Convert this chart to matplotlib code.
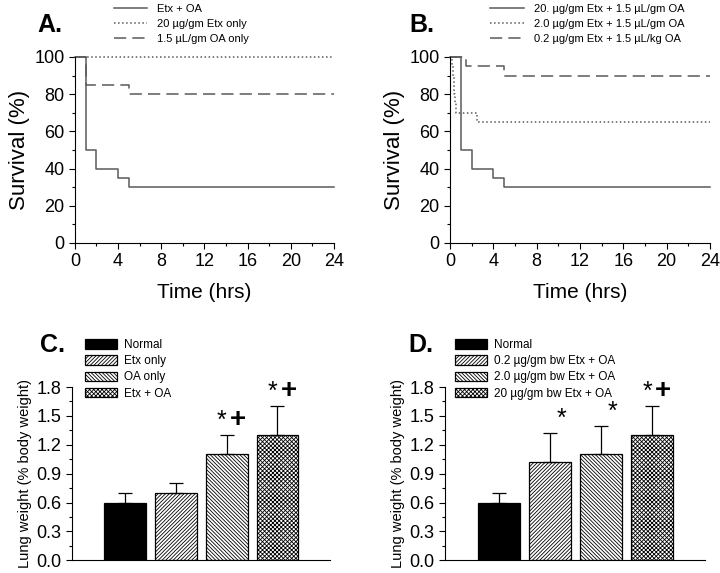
import matplotlib
matplotlib.use("Agg")
import matplotlib.pyplot as plt
import numpy as np
from matplotlib.ticker import MultipleLocator, FormatStrFormatter

plt.rcParams['font.family'] = ['Liberation Sans', 'DejaVu Sans']
plt.rcParams['hatch.linewidth'] = 0.6

# ---- survival data (time in hrs, survival %) ----
a_labels = ["Etx + OA", "20 \u00b5g/gm Etx only", "1.5 \u00b5L/gm OA only"]
etx_oa_t = [0, 1, 2, 4, 5, 24]
etx_oa_s = [100, 50, 40, 35, 30, 30]
etx_only_t = [0, 24]
etx_only_s = [100, 100]
oa_only_t = [0, 1, 5, 24]
oa_only_s = [100, 85, 80, 80]

b_labels = ["20. \u00b5g/gm Etx + 1.5 \u00b5L/gm OA",
            "2.0 \u00b5g/gm Etx + 1.5 \u00b5L/gm OA",
            "0.2 \u00b5g/gm Etx + 1.5 \u00b5L/kg OA"]
d20_t = [0, 1, 2, 4, 5, 24]
d20_s = [100, 50, 40, 35, 30, 30]
d2_t = [0, 0.2, 0.3, 0.4, 0.5, 0.6, 2.5, 24]
d2_s = [100, 95, 90, 80, 75, 70, 65, 65]
d02_t = [0, 1.5, 5, 24]
d02_s = [100, 95, 90, 90]

# ---- lung weight data ----
c_labels = ["Normal", "Etx only", "OA only", "Etx + OA"]
c_mean = [0.6, 0.7, 1.1, 1.3]
c_err = [0.1, 0.1, 0.2, 0.3]
c_marks = ["", "", "*+", "*+"]

d_labels = ["Normal", "0.2 \u00b5g/gm bw Etx + OA", "2.0 \u00b5g/gm bw Etx + OA",
            "20 \u00b5g/gm bw Etx + OA"]
d_mean = [0.6, 1.02, 1.1, 1.3]
d_err = [0.1, 0.3, 0.3, 0.3]
d_marks = ["", "*", "*", "*+"]

hatches = [None, "/////////", "\\\\\\\\\\\\\\\\\\", "xxxxxxxx"]
fills = ["black", "white", "white", "white"]

fig = plt.figure(figsize=(7.2, 5.73), dpi=100)
line_c = "#5a5a5a"


def surv_axes(rect, series, labels, leg_x, leg_y):
    ax = fig.add_axes(rect)
    styles = ["-", ":", (0, (8, 4))]
    for (t, s), ls, lab in zip(series, styles, labels):
        ax.step(t, s, where="post", color=line_c, lw=1.1, ls=ls, label=lab,
                clip_on=False)
    ax.set_xlim(0, 24)
    ax.set_ylim(0, 100)
    ax.xaxis.set_major_locator(MultipleLocator(4))
    ax.xaxis.set_minor_locator(MultipleLocator(2))
    ax.yaxis.set_major_locator(MultipleLocator(20))
    ax.yaxis.set_minor_locator(MultipleLocator(10))
    for sp in ["top", "right"]:
        ax.spines[sp].set_visible(False)
    ax.tick_params(labelsize=13, length=4, width=0.8)
    ax.tick_params(which="minor", length=2.5, width=0.8)
    ax.set_xlabel("Time (hrs)", fontsize=15, labelpad=9)
    ax.set_ylabel("Survival (%)", fontsize=16, labelpad=3)
    ax.legend(loc="upper left", bbox_to_anchor=(leg_x, leg_y),
              bbox_transform=fig.transFigure, frameon=False, fontsize=8,
              handlelength=3.0, handletextpad=0.9, labelspacing=0.45,
              borderpad=0, borderaxespad=0)
    return ax


def bar_axes(rect, means, errs, marks, labels, leg_x, leg_y):
    ax = fig.add_axes(rect)
    x = np.arange(len(means))
    for i in range(len(means)):
        ax.bar(x[i], means[i], width=0.82, color=fills[i], edgecolor="black",
               hatch=hatches[i], lw=0.9, label=labels[i])
        ax.errorbar(x[i], means[i], yerr=[[0], [errs[i]]], fmt="none",
                    ecolor="black", elinewidth=0.9, capsize=5, capthick=0.9)
    for i, m in enumerate(marks):
        top = means[i] + errs[i]
        if m == "*":
            ax.text(x[i] + 0.22, top + 0.02, "*", fontsize=18, ha="center",
                    va="bottom")
        elif m == "*+":
            ax.text(x[i] - 0.1, top + 0.02, "*", fontsize=18, ha="center",
                    va="bottom")
            ax.text(x[i] + 0.22, top + 0.02, "+", fontsize=20,
                    fontweight="bold", ha="center", va="bottom")
    ax.set_xlim(-1.05, 4.03)
    ax.set_ylim(0, 1.8)
    ax.set_xticks([])
    ax.yaxis.set_major_locator(MultipleLocator(0.3))
    ax.yaxis.set_minor_locator(MultipleLocator(0.15))
    ax.yaxis.set_major_formatter(FormatStrFormatter("%.1f"))
    for sp in ["top", "right"]:
        ax.spines[sp].set_visible(False)
    ax.tick_params(labelsize=13, length=4, width=0.8)
    ax.tick_params(which="minor", length=2.5, width=0.8)
    ax.set_ylabel("Lung weight (% body weight)", fontsize=10.5, labelpad=3)
    ax.legend(loc="upper left", bbox_to_anchor=(leg_x, leg_y),
              bbox_transform=fig.transFigure, frameon=False, fontsize=8.5,
              handlelength=2.7, handleheight=0.9, handletextpad=0.6,
              labelspacing=0.35, borderpad=0, borderaxespad=0)
    return ax


surv_axes([0.104, 0.576, 0.360, 0.3246],
          [(etx_oa_t, etx_oa_s), (etx_only_t, etx_only_s), (oa_only_t, oa_only_s)],
          a_labels, 0.158, 0.993)
surv_axes([0.625, 0.576, 0.361, 0.3246],
          [(d20_t, d20_s), (d2_t, d2_s), (d02_t, d02_s)],
          b_labels, 0.681, 0.993)
bar_axes([0.100, 0.022, 0.358, 0.3026], c_mean, c_err, c_marks, c_labels,
         0.118, 0.408)
bar_axes([0.618, 0.022, 0.361, 0.3026], d_mean, d_err, d_marks, d_labels,
         0.632, 0.408)

for x, y, s in [(0.052, 0.944, "A."), (0.569, 0.944, "B."),
                (0.055, 0.386, "C."), (0.567, 0.386, "D.")]:
    fig.text(x, y, s, fontsize=18, fontweight="bold", va="baseline")

fig.savefig("out.png", dpi=100)
